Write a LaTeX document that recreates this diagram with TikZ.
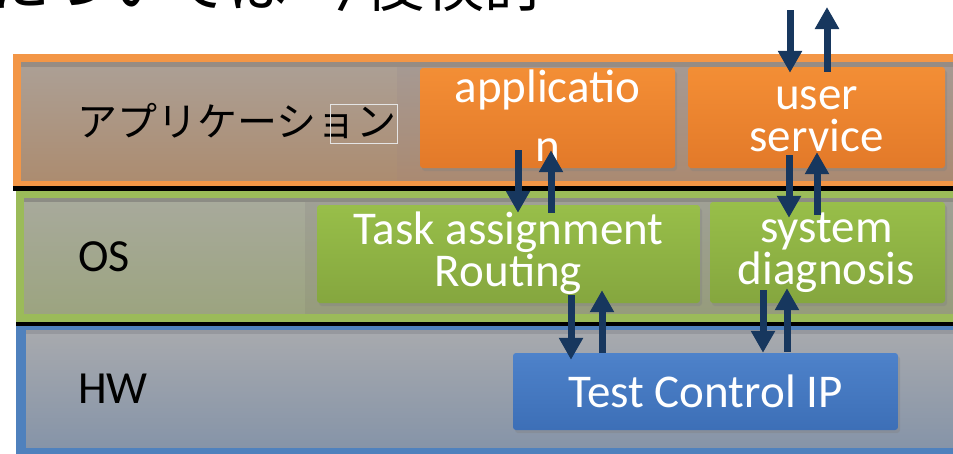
\documentclass[tikz,border=0pt]{standalone}
\usepackage{fontspec}
\setmainfont{Carlito}
\newfontfamily\jpfont{Noto Sans CJK JP}
\usetikzlibrary{arrows.meta,shadows,calc}

\definecolor{navy}{RGB}{23,55,94}
\definecolor{apporange}{RGB}{243,150,70}
\definecolor{osgreen}{RGB}{155,187,89}
\definecolor{hwblue}{RGB}{79,129,189}

% layer backgrounds
\definecolor{appLblTop}{RGB}{172,160,150}
\definecolor{appLblBot}{RGB}{172,140,112}
\definecolor{appBgTop}{RGB}{166,154,148}
\definecolor{appBgBot}{RGB}{170,138,114}
\definecolor{appStrip}{RGB}{150,140,132}
\definecolor{osLblTop}{RGB}{168,170,156}
\definecolor{osLblBot}{RGB}{156,164,128}
\definecolor{osBgTop}{RGB}{160,160,150}
\definecolor{osBgBot}{RGB}{150,156,124}
\definecolor{osStrip}{RGB}{140,140,132}
\definecolor{hwBgTop}{RGB}{168,170,174}
\definecolor{hwBgBot}{RGB}{134,148,168}
\definecolor{hwStrip}{RGB}{150,152,158}

% block colours
\definecolor{ab0}{RGB}{200,100,32}
\definecolor{ab1}{RGB}{222,116,38}
\definecolor{ab2}{RGB}{242,140,52}
\definecolor{ab3}{RGB}{244,150,58}
\definecolor{ab4}{RGB}{250,212,100}
\definecolor{ob0}{RGB}{112,145,52}
\definecolor{ob1}{RGB}{128,160,60}
\definecolor{ob2}{RGB}{150,188,72}
\definecolor{ob3}{RGB}{160,198,82}
\definecolor{ob4}{RGB}{206,228,130}
\definecolor{hb0}{RGB}{44,92,160}
\definecolor{hb1}{RGB}{56,106,178}
\definecolor{hb2}{RGB}{76,128,200}
\definecolor{hb3}{RGB}{86,140,212}
\definecolor{hb4}{RGB}{130,178,232}

% box gradients (0bp = bottom edge)
\pgfdeclareverticalshading{appboxshade}{100bp}{%
  color(0bp)=(ab0); color(12bp)=(ab1); color(70bp)=(ab2); color(92bp)=(ab3); color(100bp)=(ab4)}
\pgfdeclareverticalshading{osboxshade}{100bp}{%
  color(0bp)=(ob0); color(12bp)=(ob1); color(70bp)=(ob2); color(92bp)=(ob3); color(100bp)=(ob4)}
\pgfdeclareverticalshading{hwboxshade}{100bp}{%
  color(0bp)=(hb0); color(12bp)=(hb1); color(70bp)=(hb2); color(92bp)=(hb3); color(100bp)=(hb4)}

\tikzset{
  boxbase/.style={rounded corners=3pt, inner sep=0pt,
    drop shadow={opacity=0.35, shadow xshift=2pt, shadow yshift=-3pt}},
  appbox/.style={boxbase, shading=appboxshade},
  osbox/.style={boxbase, shading=osboxshade},
  hwbox/.style={boxbase, shading=hwboxshade},
  boxtext/.style={anchor=base, inner sep=0pt, text=white, text height=31pt, text depth=9pt,
    font=\fontsize{47}{47}\selectfont},
  layerlabel/.style={text=black, inner sep=0pt, font=\fontsize{46}{46}\selectfont},
  arr/.style={draw=navy, line width=7pt, -{Triangle[width=23pt,length=22pt]}},
}

\begin{document}
\begin{tikzpicture}[x=1pt,y=-1pt]
\useasboundingbox (0,0) rectangle (953,453);
\clip (0,0) rectangle (953,453);
\fill[white] (0,0) rectangle (953,453);

% heading line, cut by the top edge
\node[anchor=base east, inner sep=0pt, font=\jpfont\fontsize{60}{60}\selectfont] (title) at (545,6) {については\kern17pt 今後検討};

% ---- application layer ----
\fill[apporange] (13,54) rectangle (960,186);
\shade[top color=appLblTop, bottom color=appLblBot] (21,62) rectangle (397,180);
\shade[top color=appBgTop, bottom color=appBgBot] (397,62) rectangle (960,180);
\fill[appStrip] (21,62) rectangle (960,67);
\fill[black] (13,186) rectangle (960,191);

% ---- OS layer ----
\fill[osgreen] (16,191) rectangle (960,322);
\shade[top color=osLblTop, bottom color=osLblBot] (24,198) rectangle (305,313);
\shade[top color=osBgTop, bottom color=osBgBot] (305,198) rectangle (960,313);
\fill[osStrip] (24,198) rectangle (960,202);
\fill[black] (16,322) rectangle (960,326);

% ---- HW layer ----
\fill[hwblue] (16,326) rectangle (960,460);
\shade[top color=hwBgTop, bottom color=hwBgBot] (26,330) rectangle (960,447);
\fill[hwStrip] (26,330) rectangle (960,334);

% layer labels
\node[layerlabel, font=\jpfont\fontsize{40}{40}\selectfont] (lapp) at (237,121) {アプリケーション};
\draw[white!80!gray, line width=0.6pt] (330,104) rectangle (397,143);
\node[layerlabel] (los) at (104,257) {OS};
\node[layerlabel] (lhw) at (113,389) {HW};

% function blocks
\node[appbox, minimum width=255, minimum height=100] (app) at (547.5,118) {};
\node[appbox, minimum width=257, minimum height=101] (usr) at (816.5,117.5) {};
\node[osbox, minimum width=383, minimum height=98] (tsk) at (508.5,254) {};
\node[osbox, minimum width=235, minimum height=101] (sys) at (827.5,252.5) {};
\node[hwbox, minimum width=385, minimum height=77] (tcp) at (705.5,391.5) {};

% block captions, one line each, set on their baselines
\node[boxtext] (appt1) at ($(app.north)+(0,35)$) {applicatio};
\node[boxtext] (appt2) at ($(app.north)+(0,94)$) {n};
\node[boxtext] (usrt1) at ($(usr.north)+(0,43)$) {user};
\node[boxtext] (usrt2) at ($(usr.north)+(0,85)$) {service};
\node[boxtext] (tskt1) at ($(tsk.north)+(0,40)$) {Task assignment};
\node[boxtext] (tskt2) at ($(tsk.north)+(0,82)$) {Routing};
\node[boxtext] (syst1) at ($(sys.north)+(-1,41)$) {system};
\node[boxtext] (syst2) at ($(sys.north)+(-1,83)$) {diagnosis};
\node[boxtext] (tcpt) at ($(tcp.north)+(0,55)$) {Test Control IP};

% external request / response
\coordinate (extin) at (790,10);
\coordinate (extout) at (827,7);
\draw[arr] (extin) -- ($(usr.north)+(-26.5,6)$);
\draw[arr] ($(usr.north)+(10.5,5)$) -- (extout);

% application <-> task assignment
\draw[arr] ($(app.south)+(-29.5,-18)$) -- ($(tsk.north)+(9.5,8)$);
\draw[arr] ($(tsk.north)+(42.5,8)$) -- ($(app.south)+(3.5,-18)$);

% user service <-> system diagnosis
\draw[arr] ($(usr.south)+(-27.5,-13)$) -- ($(sys.north)+(-38.5,16)$);
\draw[arr] ($(sys.north)+(-10.5,13)$) -- ($(usr.south)+(0.5,-16)$);

% task assignment <-> test control IP
\draw[arr] ($(tsk.south)+(62.5,-8)$) -- ($(tcp.north)+(-134.5,7)$);
\draw[arr] ($(tcp.north)+(-103.5,0)$) -- ($(tsk.south)+(93.5,-13)$);

% system diagnosis <-> test control IP
\draw[arr] ($(sys.south)+(-64.5,-13)$) -- ($(tcp.north)+(57.5,0)$);
\draw[arr] ($(tcp.north)+(81.5,-1)$) -- ($(sys.south)+(-40.5,-15)$);
\end{tikzpicture}
\end{document}
